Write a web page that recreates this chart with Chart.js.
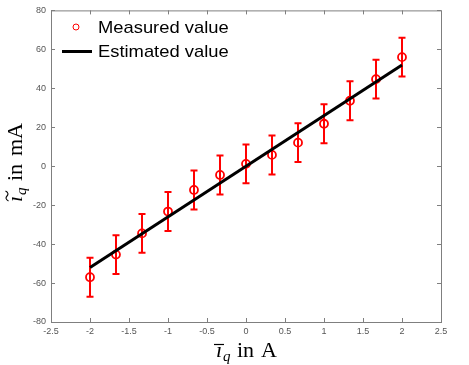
<!DOCTYPE html>
<html><head><meta charset="utf-8">
<script src="https://cdn.jsdelivr.net/npm/chart.js@4/dist/chart.umd.min.js"></script>
<style>html,body{margin:0;padding:0;background:#fff}#wrap{width:469px;height:365px}</style>
</head><body><div id="wrap"><canvas id="c" width="469" height="365"></canvas></div>
<script>
// ---- data ----
const xValues = [-2, -1.667, -1.333, -1, -0.667, -0.333, 0, 0.333, 0.667, 1, 1.333, 1.667, 2];
const measured = [-57, -45.4, -34.5, -23.3, -12.2, -4.5, 1.2, 5.8, 12.1, 21.8, 33.6, 44.7, 56];
const errorMargin = [10, 10, 10, 10, 10, 10, 10, 10, 10, 10, 10, 10, 10];
const estimatedX = [-2, 2];
const estimated = [-52, 52];
const xTickRange = [-2.5, 2.5, 0.5];
const yTickRange = [-80, 80, 20];
const legendLabels = ['Measured value', 'Estimated value'];

const AXIS = '#7f7f7f';
const TICKTXT = '#555555';
const RED = '#ff0000';

const custom = {
  id: 'custom',
  beforeDatasetsDraw(chart) {
    const ctx = chart.ctx, xs = chart.scales.x, ys = chart.scales.y;
    ctx.save();
    ctx.strokeStyle = RED;
    ctx.lineWidth = 2;
    xValues.forEach((xv, i) => {
      const px = Math.round(xs.getPixelForValue(xv));
      const top = ys.getPixelForValue(measured[i] + errorMargin[i]);
      const bot = ys.getPixelForValue(measured[i] - errorMargin[i]);
      ctx.beginPath();
      ctx.moveTo(px, top); ctx.lineTo(px, bot);
      ctx.moveTo(px - 3.5, top); ctx.lineTo(px + 3.5, top);
      ctx.moveTo(px - 3.5, bot); ctx.lineTo(px + 3.5, bot);
      ctx.stroke();
    });
    ctx.restore();
  },
  afterDraw(chart) {
    const ctx = chart.ctx, a = chart.chartArea, xs = chart.scales.x, ys = chart.scales.y;
    ctx.save();
    // frame top/right
    ctx.strokeStyle = AXIS; ctx.lineWidth = 1;
    ctx.beginPath();
    ctx.moveTo(a.left, a.top + 0.5); ctx.lineTo(a.right + 0.5, a.top + 0.5);
    ctx.lineTo(a.right + 0.5, a.bottom);
    ctx.stroke();
    // inward ticks all four sides
    const tl = 4;
    ctx.beginPath();
    xs.ticks.forEach(t => {
      const p = Math.round(xs.getPixelForValue(t.value)) + 0.5;
      ctx.moveTo(p, a.bottom); ctx.lineTo(p, a.bottom - tl);
      ctx.moveTo(p, a.top); ctx.lineTo(p, a.top + tl);
    });
    ys.ticks.forEach(t => {
      const p = Math.round(ys.getPixelForValue(t.value)) + 0.5;
      ctx.moveTo(a.left, p); ctx.lineTo(a.left + tl, p);
      ctx.moveTo(a.right, p); ctx.lineTo(a.right - tl, p);
    });
    ctx.stroke();

    // legend
    ctx.fillStyle = '#000';
    ctx.textBaseline = 'alphabetic';
    ctx.textAlign = 'left';
    ctx.font = '17px "Liberation Sans", Arial, sans-serif';
    const drawStretched = (txt, x, y) => {
      ctx.save(); ctx.translate(x, y); ctx.scale(1.08, 1); ctx.fillText(txt, 0, 0); ctx.restore();
    };
    drawStretched(legendLabels[0], 98, 33);
    drawStretched(legendLabels[1], 98, 57);
    ctx.strokeStyle = RED; ctx.lineWidth = 1;
    ctx.beginPath(); ctx.arc(76, 27, 3, 0, Math.PI * 2); ctx.stroke();
    ctx.strokeStyle = '#000'; ctx.lineWidth = 3;
    ctx.beginPath(); ctx.moveTo(62, 51.5); ctx.lineTo(92, 51.5); ctx.stroke();

    // x axis label: \bar{i}_q in A
    const serif = '"Liberation Serif", "Times New Roman", serif';
    ctx.fillStyle = '#000';
    ctx.font = 'italic 22px ' + serif;
    ctx.fillText('\u0131', 216, 357);
    ctx.lineWidth = 1.2; ctx.strokeStyle = '#000';
    ctx.beginPath(); ctx.moveTo(214, 344.5); ctx.lineTo(224, 344.5); ctx.stroke();
    ctx.font = 'italic 15px ' + serif;
    ctx.fillText('q', 223, 361);
    ctx.font = '22px ' + serif;
    ctx.fillText('in', 237, 357);
    ctx.fillText('A', 261, 357);

    // y axis label: \tilde{i}_q in mA (rotated)
    ctx.save();
    ctx.translate(22, 202);
    ctx.rotate(-Math.PI / 2);
    ctx.font = 'italic 22px ' + serif;
    ctx.fillText('\u0131', 0, 0);
    ctx.lineWidth = 1.1;
    ctx.beginPath();
    ctx.moveTo(1, -13.5);
    ctx.bezierCurveTo(2.5, -16.5, 4.5, -16.5, 6, -15);
    ctx.bezierCurveTo(7.5, -13.5, 9.5, -13.5, 11, -16.5);
    ctx.stroke();
    ctx.font = 'italic 15px ' + serif;
    ctx.fillText('q', 7, 4);
    ctx.font = '22px ' + serif;
    ctx.fillText('in', 21, 0);
    ctx.fillText('mA', 46, 0);
    ctx.restore();

    ctx.restore();
  }
};

const fmt = v => String(Math.round(v * 10) / 10);

new Chart(document.getElementById('c'), {
  type: 'scatter',
  data: {
    datasets: [
      {
        label: legendLabels[1],
        data: estimatedX.map((x, i) => ({ x: x, y: estimated[i] })),
        showLine: true,
        borderColor: '#000',
        borderWidth: 3,
        pointRadius: 0,
        fill: false
      },
      {
        label: legendLabels[0],
        data: xValues.map((x, i) => ({ x: x, y: measured[i] })),
        showLine: false,
        pointStyle: 'circle',
        pointRadius: 4,
        pointBorderWidth: 1.8,
        borderColor: RED,
        backgroundColor: 'rgba(0,0,0,0)'
      }
    ]
  },
  options: {
    responsive: false,
    animation: false,
    devicePixelRatio: 1,
    layout: { padding: { left: 0, top: 8, right: 28, bottom: 0 } },
    plugins: { legend: { display: false }, tooltip: { enabled: false } },
    scales: {
      x: {
        type: 'linear',
        min: xTickRange[0], max: xTickRange[1],
        ticks: {
          stepSize: xTickRange[2],
          color: TICKTXT,
          font: { family: '"Liberation Sans", Arial, sans-serif', size: 9 },
          padding: 4,
          maxRotation: 0,
          callback: v => fmt(v)
        },
        grid: { display: false, drawTicks: false },
        border: { display: true, color: AXIS, width: 1 },
        afterFit(s) { s.height = 43; }
      },
      y: {
        type: 'linear',
        min: yTickRange[0], max: yTickRange[1],
        ticks: {
          stepSize: yTickRange[2],
          color: TICKTXT,
          font: { family: '"Liberation Sans", Arial, sans-serif', size: 9 },
          padding: 5,
          callback: v => fmt(v)
        },
        grid: { display: false, drawTicks: false },
        border: { display: true, color: AXIS, width: 1 },
        afterFit(s) { s.width = 51; }
      }
    }
  },
  plugins: [custom]
});
</script>
</body></html>
